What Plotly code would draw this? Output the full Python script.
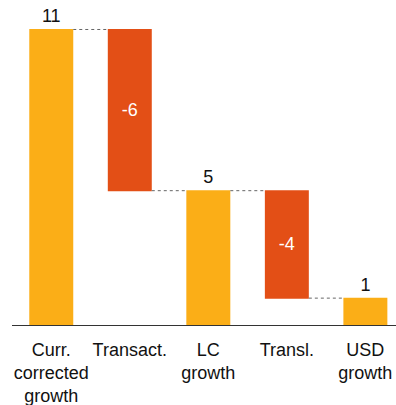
import plotly.graph_objects as go

categories = ["Curr.<br>corrected<br>growth", "Transact.", "LC<br>growth", "Transl.", "USD<br>growth"]
values = [11, -6, 5, -4, 1]
measures = ["absolute", "relative", "total", "relative", "total"]
labels = ["11", "-6", "5", "-4", "1"]

YELLOW = "#FBAE17"
RED = "#E34F16"
FONT = "Liberation Sans, Arial"

fig = go.Figure(go.Waterfall(
    x=categories,
    y=values,
    measure=measures,
    text=labels,
    textposition=["outside", "inside", "outside", "inside", "outside"],
    insidetextfont=dict(color="white", size=18, family=FONT),
    outsidetextfont=dict(color="#111111", size=18, family=FONT),
    insidetextanchor="middle",
    totals=dict(marker=dict(color=YELLOW)),
    decreasing=dict(marker=dict(color=RED)),
    increasing=dict(marker=dict(color=YELLOW)),
    connector=dict(line=dict(color="#666666", width=1, dash="dot")),
    width=0.56,
    cliponaxis=False,
))

fig.update_layout(
    width=396, height=405,
    margin=dict(l=12, r=0, t=8, b=80),
    paper_bgcolor="white", plot_bgcolor="white",
    showlegend=False,
    font=dict(family=FONT, size=18, color="#111111"),
    xaxis=dict(
        range=[-0.5, 4.39],
        showline=True, linecolor="#333333", linewidth=1,
        showgrid=False, zeroline=False, ticks="",
        tickfont=dict(size=18, color="#111111"),
        ticklabelstandoff=8,
    ),
    yaxis=dict(range=[0, 11.8], visible=False, showgrid=False, zeroline=False),
)

fig.write_html("out.html")
